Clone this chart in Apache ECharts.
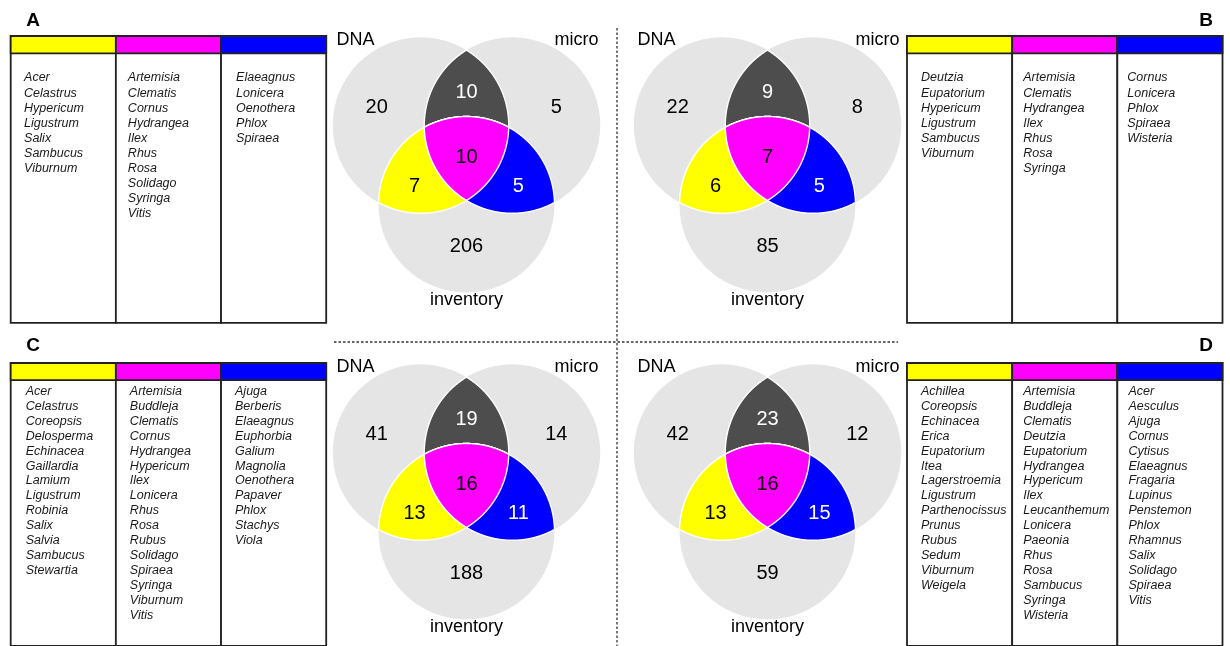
<!DOCTYPE html>
<html>
<head>
<meta charset="utf-8">
<script src="https://cdn.jsdelivr.net/npm/echarts@6/dist/echarts.min.js"></script>
<style>
  html, body { margin: 0; padding: 0; background: #ffffff; }
  #chart { width: 1230px; height: 646px; }
</style>
</head>
<body>
<div id="chart"></div>
<script>
// ---- Data ---------------------------------------------------------------
const setNames = ['DNA', 'micro', 'inventory'];

// Region order: DNA only, micro only, inventory only,
// DNA∩micro, DNA∩inventory, micro∩inventory, all three
const countsA = [20, 5, 206, 10, 7, 5, 10];
const countsB = [22, 8, 85, 9, 6, 5, 7];
const countsC = [41, 14, 188, 19, 13, 11, 16];
const countsD = [42, 12, 59, 23, 13, 15, 16];

// Genera listed under each shared region (yellow = DNA∩inventory,
// magenta = all three, blue = micro∩inventory)
const yellowA = ['Acer', 'Celastrus', 'Hypericum', 'Ligustrum', 'Salix', 'Sambucus', 'Viburnum'];
const magentaA = ['Artemisia', 'Clematis', 'Cornus', 'Hydrangea', 'Ilex', 'Rhus', 'Rosa', 'Solidago', 'Syringa', 'Vitis'];
const blueA = ['Elaeagnus', 'Lonicera', 'Oenothera', 'Phlox', 'Spiraea'];

const yellowB = ['Deutzia', 'Eupatorium', 'Hypericum', 'Ligustrum', 'Sambucus', 'Viburnum'];
const magentaB = ['Artemisia', 'Clematis', 'Hydrangea', 'Ilex', 'Rhus', 'Rosa', 'Syringa'];
const blueB = ['Cornus', 'Lonicera', 'Phlox', 'Spiraea', 'Wisteria'];

const yellowC = ['Acer', 'Celastrus', 'Coreopsis', 'Delosperma', 'Echinacea', 'Gaillardia', 'Lamium', 'Ligustrum', 'Robinia', 'Salix', 'Salvia', 'Sambucus', 'Stewartia'];
const magentaC = ['Artemisia', 'Buddleja', 'Clematis', 'Cornus', 'Hydrangea', 'Hypericum', 'Ilex', 'Lonicera', 'Rhus', 'Rosa', 'Rubus', 'Solidago', 'Spiraea', 'Syringa', 'Viburnum', 'Vitis'];
const blueC = ['Ajuga', 'Berberis', 'Elaeagnus', 'Euphorbia', 'Galium', 'Magnolia', 'Oenothera', 'Papaver', 'Phlox', 'Stachys', 'Viola'];

const yellowD = ['Achillea', 'Coreopsis', 'Echinacea', 'Erica', 'Eupatorium', 'Itea', 'Lagerstroemia', 'Ligustrum', 'Parthenocissus', 'Prunus', 'Rubus', 'Sedum', 'Viburnum', 'Weigela'];
const magentaD = ['Artemisia', 'Buddleja', 'Clematis', 'Deutzia', 'Eupatorium', 'Hydrangea', 'Hypericum', 'Ilex', 'Leucanthemum', 'Lonicera', 'Paeonia', 'Rhus', 'Rosa', 'Sambucus', 'Syringa', 'Wisteria'];
const blueD = ['Acer', 'Aesculus', 'Ajuga', 'Cornus', 'Cytisus', 'Elaeagnus', 'Fragaria', 'Lupinus', 'Penstemon', 'Phlox', 'Rhamnus', 'Salix', 'Solidago', 'Spiraea', 'Vitis'];

const panelLetters = ['A', 'B', 'C', 'D'];

// ---- Styling and geometry ---------------------------------------------
const FONT = '"Liberation Sans", Arial, Helvetica, sans-serif';
const GRAY = '#e5e5e5', DARK = '#4d4d4d', YELLOW = '#ffff00', MAGENTA = '#ff00ff', BLUE = '#0000ff';

// Which circles make up each region, and its fill
const REGION_SETS = [[0], [1], [2], [0, 1], [0, 2], [1, 2], [0, 1, 2]];
const REGION_COLOURS = [GRAY, GRAY, GRAY, DARK, YELLOW, BLUE, MAGENTA];
const REGION_TEXT = ['#000', '#000', '#000', '#fff', '#000', '#fff', '#000'];

// Circle centres in axis units (radius = 1)
const CIRCLE_CENTRES = [[-0.52, 0.3], [0.52, 0.3], [0, -0.6]];
// Where each count and set name sits, in axis units
const COUNT_POS = [[-1.02, 0.5], [1.02, 0.5], [0, -1.08], [0, 0.67], [-0.59, -0.39], [0.59, -0.39], [0, -0.07]];
const NAME_POS = [[-1.26, 1.27], [1.25, 1.27], [0, -1.69]];

const VENN_X = [-1.6, 1.6], VENN_Y = [-1.8, 1.5], VENN_PX = 88;
const vennCentres = [[466.5, 151.7], [767.5, 151.7], [466.5, 478.7], [767.5, 478.7]];

const TABLE_ROWS = 19, ROW_PX = 15.1, TABLE_W = 315.5, HEADER_ROWS = 1.15;
const tableLayout = [
  { left: 10.7, top: 36, firstRow: 2.78, textOff: [0.127, 0.114, 0.143] },
  { left: 907, top: 36, firstRow: 2.78, textOff: [0.133, 0.105, 0.095] },
  { left: 10.7, top: 363, firstRow: 1.92, textOff: [0.143, 0.133, 0.133] },
  { left: 907, top: 363, firstRow: 1.92, textOff: [0.133, 0.105, 0.105] }
];
const HEADER_COLOURS = [YELLOW, MAGENTA, BLUE];

const panels = [
  { counts: countsA, cols: [yellowA, magentaA, blueA] },
  { counts: countsB, cols: [yellowB, magentaB, blueB] },
  { counts: countsC, cols: [yellowC, magentaC, blueC] },
  { counts: countsD, cols: [yellowD, magentaD, blueD] }
];

// ---- Render helpers -----------------------------------------------------
function renderRegion(params, api) {
  const k = api.value(0);
  const sets = REGION_SETS[k];
  const rad = api.size([1, 1])[0];
  const centres = CIRCLE_CENTRES.map(c => api.coord(c));
  if (sets.length === 1) {
    const c = centres[sets[0]];
    return { type: 'circle', z2: k, shape: { cx: c[0], cy: c[1], r: rad }, style: { fill: REGION_COLOURS[k] } };
  }
  // Boundary of an intersection of discs, traced by rays from an interior point
  let ox = 0, oy = 0;
  sets.forEach(i => { ox += centres[i][0]; oy += centres[i][1]; });
  ox /= sets.length; oy /= sets.length;
  const pts = [];
  const N = 1080;
  for (let a = 0; a < N; a++) {
    const th = a / N * 2 * Math.PI, ux = Math.cos(th), uy = Math.sin(th);
    let t = Infinity;
    sets.forEach(i => {
      const wx = centres[i][0] - ox, wy = centres[i][1] - oy;
      const b = ux * wx + uy * wy;
      const c = wx * wx + wy * wy - rad * rad;
      t = Math.min(t, b + Math.sqrt(b * b - c));
    });
    pts.push([ox + t * ux, oy + t * uy]);
  }
  return {
    type: 'polygon', z2: k, shape: { points: pts },
    style: { fill: REGION_COLOURS[k], stroke: '#ffffff', lineWidth: 1.4, lineJoin: 'round' }
  };
}

function renderCount(params, api) {
  const k = api.value(0);
  const p = api.coord(COUNT_POS[k]);
  return {
    type: 'text', z2: 20, x: p[0], y: p[1],
    style: {
      text: String(api.value(1)), fill: REGION_TEXT[k], fontSize: 20, fontFamily: FONT,
      align: 'center', verticalAlign: 'middle', textAlign: 'center', textVerticalAlign: 'middle'
    }
  };
}

function renderSetName(params, api) {
  const k = api.value(0);
  const p = api.coord(NAME_POS[k]);
  return {
    type: 'text', z2: 20, x: p[0], y: p[1],
    style: {
      text: setNames[k], fill: '#000', fontSize: 18, fontFamily: FONT,
      align: 'center', verticalAlign: 'middle', textAlign: 'center', textVerticalAlign: 'middle'
    }
  };
}

function makeTableRender(panel, layout) {
  return function (params, api) {
    const col = api.value(0);
    const tl = api.coord([col, 0]);
    const br = api.coord([col + 1, TABLE_ROWS]);
    const hb = api.coord([col + 1, HEADER_ROWS]);
    const children = [
      { type: 'rect', shape: { x: tl[0], y: tl[1], width: br[0] - tl[0], height: br[1] - tl[1] },
        style: { fill: '#ffffff', stroke: '#222222', lineWidth: 1.8 } },
      { type: 'rect', shape: { x: tl[0], y: tl[1], width: hb[0] - tl[0], height: hb[1] - tl[1] },
        style: { fill: HEADER_COLOURS[col], stroke: '#222222', lineWidth: 1.8 } }
    ];
    panel.cols[col].forEach((name, r) => {
      const pt = api.coord([col + layout.textOff[col], layout.firstRow + r]);
      children.push({
        type: 'text', x: pt[0], y: pt[1],
        style: {
          text: name, fill: '#1a1a1a', fontSize: 12.5, fontStyle: 'italic', fontFamily: FONT,
          align: 'left', verticalAlign: 'middle', textAlign: 'left', textVerticalAlign: 'middle'
        }
      });
    });
    return { type: 'group', children };
  };
}

// ---- Option --------------------------------------------------------------
const grid = [], xAxis = [], yAxis = [], series = [];

vennCentres.forEach((c, i) => {
  grid.push({
    left: c[0] + VENN_X[0] * VENN_PX, top: c[1] - VENN_Y[1] * VENN_PX,
    width: (VENN_X[1] - VENN_X[0]) * VENN_PX, height: (VENN_Y[1] - VENN_Y[0]) * VENN_PX
  });
  xAxis.push({ type: 'value', gridIndex: i, min: VENN_X[0], max: VENN_X[1], show: false });
  yAxis.push({ type: 'value', gridIndex: i, min: VENN_Y[0], max: VENN_Y[1], show: false });
  const axisRef = { xAxisIndex: i, yAxisIndex: i };
  series.push(Object.assign({
    type: 'custom', renderItem: renderRegion, silent: true,
    data: REGION_SETS.map((s, k) => [k, 0])
  }, axisRef));
  series.push(Object.assign({
    type: 'custom', renderItem: renderCount, silent: true, z: 3,
    data: panels[i].counts.map((v, k) => [k, v])
  }, axisRef));
  series.push(Object.assign({
    type: 'custom', renderItem: renderSetName, silent: true, z: 3,
    data: setNames.map((n, k) => [k, 0])
  }, axisRef));
});

tableLayout.forEach((t, i) => {
  const gi = 4 + i;
  grid.push({ left: t.left, top: t.top, width: TABLE_W, height: TABLE_ROWS * ROW_PX });
  xAxis.push({ type: 'value', gridIndex: gi, min: 0, max: 3, show: false });
  yAxis.push({ type: 'value', gridIndex: gi, min: 0, max: TABLE_ROWS, inverse: true, show: false });
  series.push({
    type: 'custom', xAxisIndex: gi, yAxisIndex: gi, silent: true,
    renderItem: makeTableRender(panels[i], t),
    data: [[0, 0], [1, 0], [2, 0]]
  });
});

const letterPos = [[33, 21], [1206, 21], [33, 346], [1206, 346]];
const graphic = panelLetters.map((L, i) => ({
  type: 'text', x: letterPos[i][0], y: letterPos[i][1], z: 10,
  style: {
    text: L, fill: '#000', font: 'bold 19px ' + FONT,
    align: 'center', verticalAlign: 'middle', textAlign: 'center', textVerticalAlign: 'middle'
  }
}));
// Dashed separators between the four panels
graphic.push({
  type: 'line', z: 10, shape: { x1: 617, y1: 28, x2: 617, y2: 646 },
  style: { stroke: '#333333', lineWidth: 1.3, lineDash: [2.5, 2] }
});
graphic.push({
  type: 'line', z: 10, shape: { x1: 334, y1: 342, x2: 898, y2: 342 },
  style: { stroke: '#333333', lineWidth: 1.3, lineDash: [2.5, 2] }
});

const chart = echarts.init(document.getElementById('chart'), null, { renderer: 'canvas' });
chart.setOption({
  animation: false,
  backgroundColor: '#ffffff',
  grid, xAxis, yAxis, series, graphic
});
</script>
</body>
</html>
